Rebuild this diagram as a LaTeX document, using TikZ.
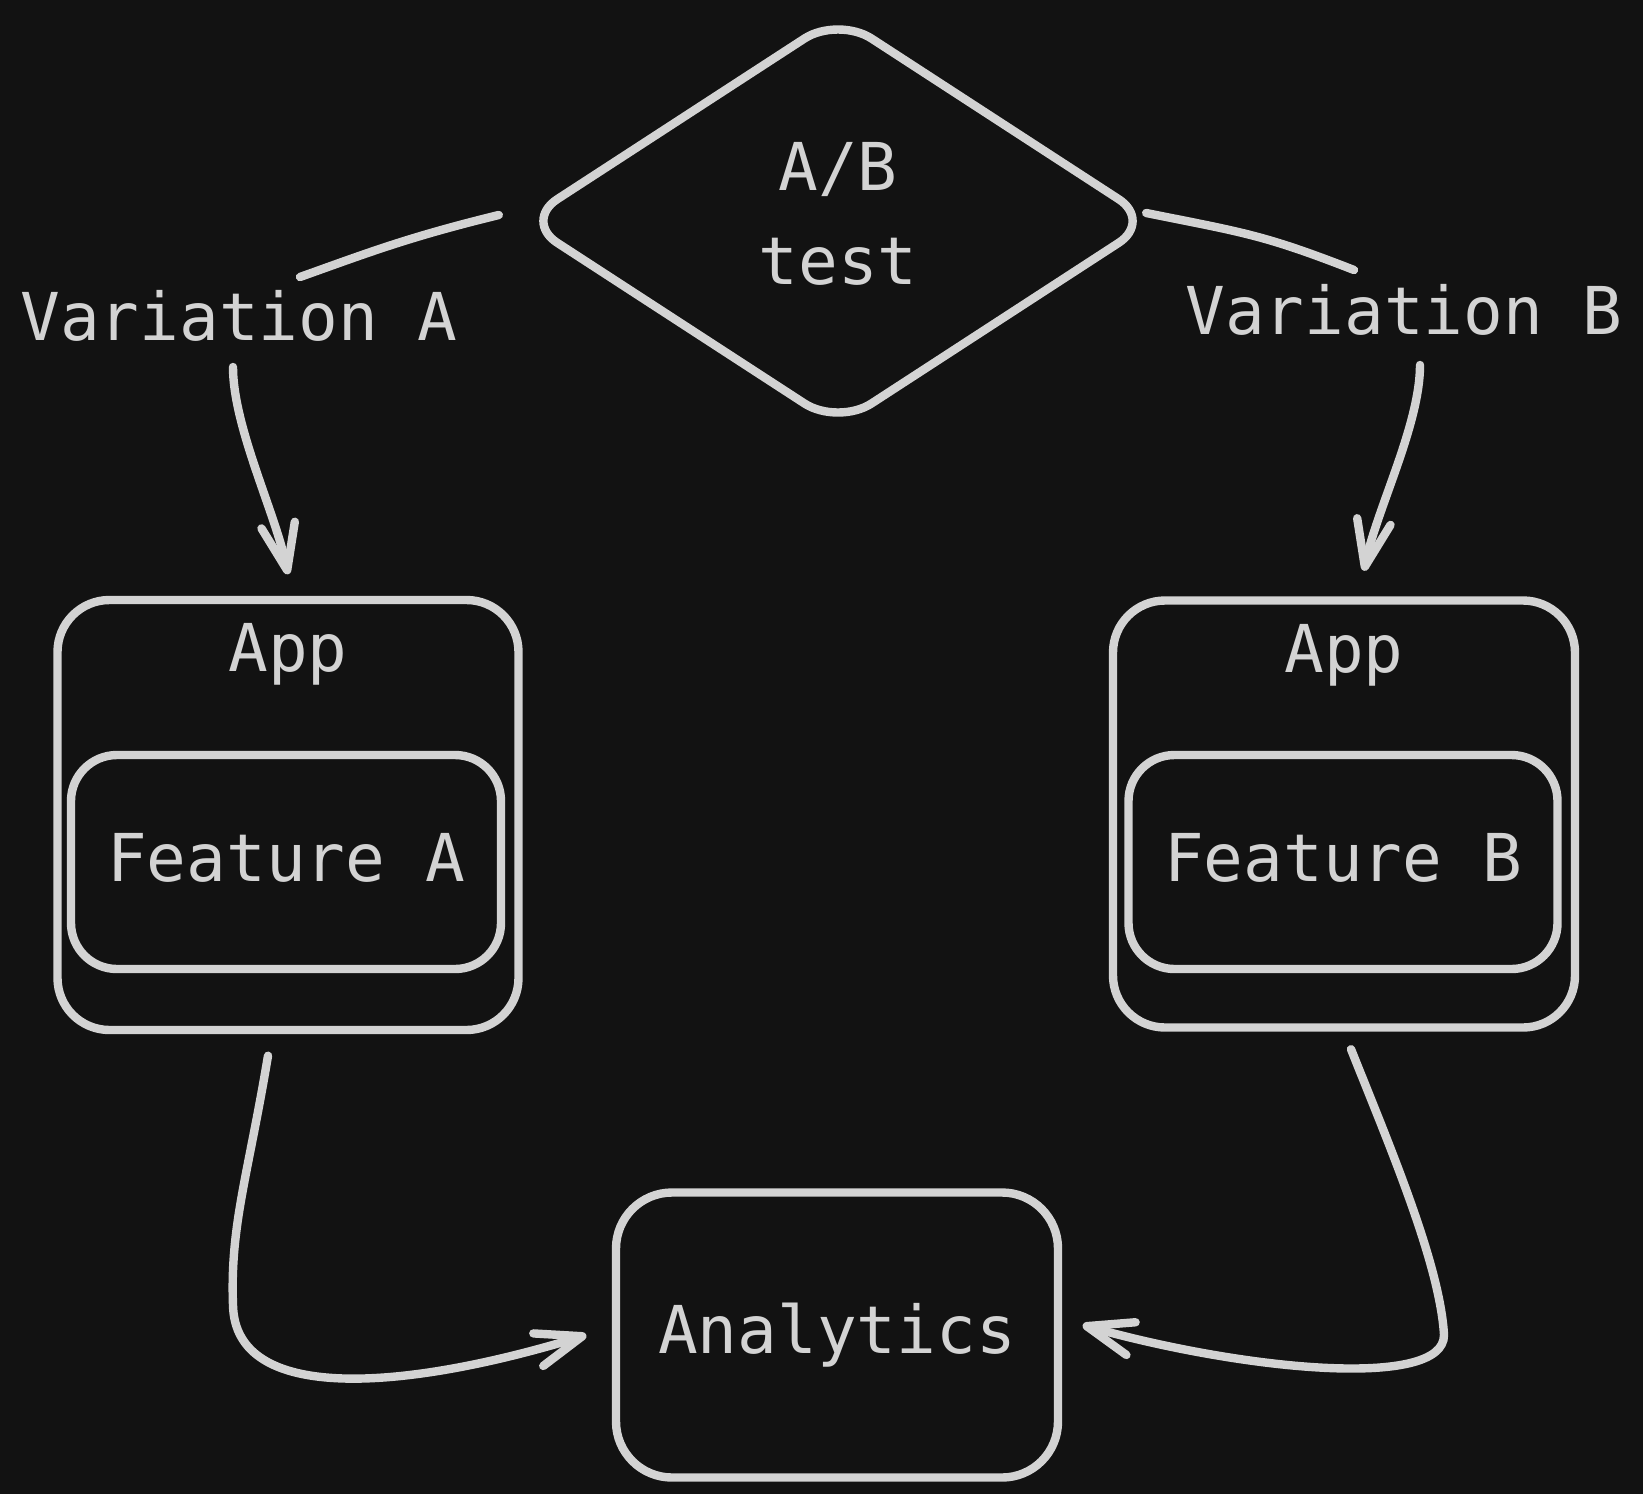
\documentclass[tikz,border=0pt]{standalone}
\usepackage{fontspec}
\setmonofont{DejaVu Sans Mono}
\usepackage{tikz}
\usetikzlibrary{shapes.geometric, arrows.meta, positioning}

\definecolor{bg}{HTML}{121212}
\definecolor{ink}{HTML}{D3D3D3}

\begin{document}
\begin{tikzpicture}[x=0.5pt, y=-0.5pt,
    every node/.style={text=ink, font=\ttfamily\fontsize{33}{44}\selectfont},
    box/.style={draw=ink, line width=4.2pt, rounded corners=26pt, inner sep=0pt},
    lbl/.style={inner sep=0pt},
    link/.style={draw=ink, line width=4.2pt, line cap=round},
    arr/.style={link, -{Straight Barb[length=23pt, width=17pt, round]}}]

    % -------------------------
    % Canvas
    % -------------------------
    \fill[bg] (0,0) rectangle (1643,1494);
    \useasboundingbox (0,0) rectangle (1643,1494);

    % -------------------------
    % Decision and labels
    % -------------------------
    \node[box, diamond, rounded corners=20pt, minimum width=316pt, minimum height=206pt]
        (abtest) at (838,221) {};
    \node[lbl, align=center, yshift=3.5pt, font=\ttfamily\fontsize{33}{47}\selectfont]
        (abtestlbl) at (abtest) {A/B\\test};

    \node[lbl] (varA) at (239,316) {Variation A};
    \node[lbl] (varB) at (1404,310) {Variation B};

    % -------------------------
    % Apps with features
    % -------------------------
    \node[box, minimum width=230.5pt, minimum height=215pt] (appA) at (288,815) {};
    \node[lbl, anchor=base] (appAlbl) at ([yshift=-38pt]appA.north) {App};
    \node[box, rounded corners=23pt, minimum width=215pt, minimum height=107pt]
        (featA) at (286,862) {\raisebox{5pt}{Feature A}};

    \node[box, minimum width=231pt, minimum height=213.5pt] (appB) at (1344,814) {};
    \node[lbl, anchor=base] (appBlbl) at ([yshift=-38pt]appB.north) {App};
    \node[box, rounded corners=23pt, minimum width=214.5pt, minimum height=107pt]
        (featB) at (1343,862) {\raisebox{5pt}{Feature B}};

    % -------------------------
    % Analytics
    % -------------------------
    \node[box, rounded corners=28pt, minimum width=221pt, minimum height=142.5pt]
        (ana) at (837,1335) {Analytics};

    % -------------------------
    % Connectors
    % -------------------------
    % test -> variations
    \draw[link] ([shift={(-9.5pt,3pt)}]abtest.west)
        .. controls +(-90,22) and +(70,-25) .. ([shift={(30.5pt,19.5pt)}]varA.center);
    \draw[link] ([shift={(-6pt,4pt)}]abtest.east)
        .. controls +(100,20) and +(-90,-35) .. ([shift={(-25pt,20pt)}]varB.center);

    % variations -> apps
    \draw[arr] ([shift={(-3pt,-25.5pt)}]varA.center)
        .. controls +(0,60) and +(-12,-60) .. ([yshift=10.75pt]appA.north);
    \draw[arr] ([shift={(8pt,-27.5pt)}]varB.center)
        .. controls +(0,60) and +(12,-60) .. ([shift={(10pt,12.75pt)}]appB.north);

    % apps -> analytics
    \coordinate (bendA) at (233,1305);
    \coordinate (bendB) at (1444,1335);
    \draw[arr] ([shift={(-10pt,-10.75pt)}]appA.south)
        .. controls +(-20,120) and +(-3,-80) .. (bendA)
        .. controls +(2,100) and +(-180,55) .. ([xshift=-12.75pt]ana.west);
    \draw[arr] ([shift={(3.5pt,-8.75pt)}]appB.south)
        .. controls +(40,100) and +(-4,-70) .. (bendB)
        .. controls +(0,55) and +(160,45) .. ([shift={(10.25pt,5pt)}]ana.east);

\end{tikzpicture}
\end{document}
